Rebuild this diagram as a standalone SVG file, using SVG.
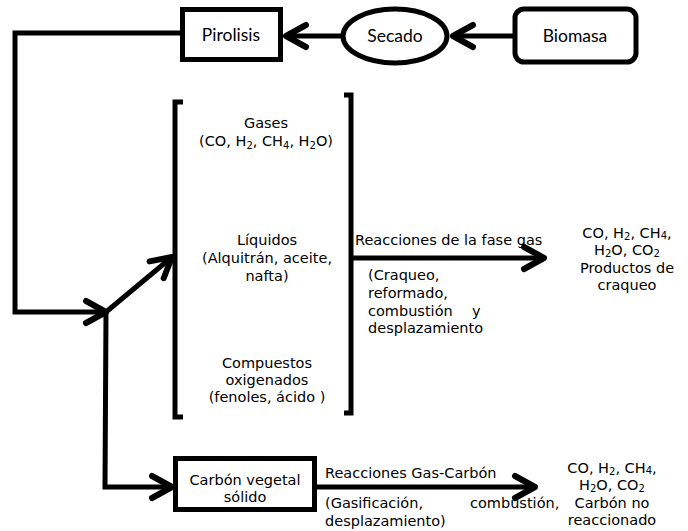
<svg xmlns="http://www.w3.org/2000/svg" width="688" height="531" viewBox="0 0 688 531">
<style>
.ln{fill:none;stroke:#000;stroke-width:5;stroke-linejoin:miter}
.box{fill:#fff;stroke:#000;stroke-width:5}
.t{font-family:"DejaVu Sans",Verdana,sans-serif;font-size:14.5px;fill:#000}
.tc{text-anchor:middle}
.tt{font-family:Lato,"Liberation Sans",sans-serif;font-size:17.5px;fill:#000;text-anchor:middle}
.s{font-size:10px}
</style>
<defs>
<marker id="ah" markerUnits="userSpaceOnUse" markerWidth="40" markerHeight="40" viewBox="-30 -20 40 40" refX="0" refY="0" orient="auto" overflow="visible">
<path d="M-20,-11 L0,0 L-20,11" fill="none" stroke="#000" stroke-width="6" stroke-linecap="round" stroke-linejoin="round"/>
</marker>
</defs>
<g id="connectors">
<line class="ln" x1="513" y1="36" x2="453" y2="36" marker-end="url(#ah)"/>
<line class="ln" x1="342" y1="36" x2="286" y2="36" marker-end="url(#ah)"/>
<polyline class="ln" points="182,33 15,33 15,312 106,312" marker-end="url(#ah)"/>
<line class="ln" x1="106" y1="312" x2="172" y2="257" marker-end="url(#ah)"/>
<polyline class="ln" points="106,312 105,487 172,487" marker-end="url(#ah)"/>
<line class="ln" x1="352" y1="258" x2="544" y2="258" marker-end="url(#ah)"/>
<line class="ln" x1="317" y1="487" x2="535" y2="487" marker-end="url(#ah)"/>
</g>
<g id="biomasa">
<rect class="box" x="515" y="9" width="121" height="53" rx="9"/>
<text class="tt" x="575" y="42">Biomasa</text>
</g>
<g id="secado">
<ellipse class="box" cx="395" cy="36" rx="52" ry="27"/>
<text class="tt" x="395" y="42">Secado</text>
</g>
<g id="pirolisis">
<rect class="box" x="182.5" y="9.5" width="98" height="50"/>
<text class="tt" x="231" y="41">Pirolisis</text>
</g>
<g id="productos-pirolisis">
<path class="ln" d="M183,102 L175,102 L175,417 L183,417"/>
<path class="ln" d="M344,95 L351,95 L351,413 L344,413"/>
<text class="t tc" x="266" y="128">Gases</text>
<text class="t tc" x="266" y="146">(CO, H<tspan class="s" dy="3">2</tspan><tspan dy="-3">, CH</tspan><tspan class="s" dy="3">4</tspan><tspan dy="-3">, H</tspan><tspan class="s" dy="3">2</tspan><tspan dy="-3">O)</tspan></text>
<text class="t tc" x="267" y="245">Líquidos</text>
<text class="t tc" x="267" y="263">(Alquitrán, aceite,</text>
<text class="t tc" x="267" y="281">nafta)</text>
<text class="t tc" x="267" y="368">Compuestos</text>
<text class="t tc" x="267" y="385">oxigenados</text>
<text class="t tc" x="267" y="402">(fenoles, ácido )</text>
</g>
<g id="fase-gas-labels">
<text class="t" x="355" y="245">Reacciones de la fase gas</text>
<text class="t" x="368" y="280">(Craqueo,</text>
<text class="t" x="368" y="298">reformado,</text>
<text class="t" x="368" y="316">combustión</text>
<text class="t" x="472" y="316">y</text>
<text class="t" x="368" y="333">desplazamiento</text>
</g>
<g id="productos-craqueo">
<text class="t tc" x="627" y="238">CO, H<tspan class="s" dy="2">2</tspan><tspan dy="-2">, CH</tspan><tspan class="s" dy="1">4</tspan><tspan dy="-1">,</tspan></text>
<text class="t tc" x="627" y="255">H<tspan class="s" dy="2">2</tspan><tspan dy="-2">O, CO</tspan><tspan class="s" dy="2">2</tspan></text>
<text class="t tc" x="627" y="273">Productos de</text>
<text class="t tc" x="627" y="290">craqueo</text>
</g>
<g id="carbon-vegetal">
<rect class="box" x="175.5" y="458.5" width="139" height="51"/>
<text class="t tc" x="245" y="485">Carbón vegetal</text>
<text class="t tc" x="245" y="502">sólido</text>
</g>
<g id="gas-carbon-labels">
<text class="t" x="325" y="478">Reacciones Gas-Carbón</text>
<text class="t" x="325" y="508">(Gasificación,</text>
<text class="t" x="470" y="508">combustión,</text>
<text class="t" x="325" y="526">desplazamiento)</text>
</g>
<g id="carbon-no-reaccionado">
<text class="t tc" x="612" y="473">CO, H<tspan class="s" dy="2">2</tspan><tspan dy="-2">, CH</tspan><tspan class="s" dy="1">4</tspan><tspan dy="-1">,</tspan></text>
<text class="t tc" x="612" y="490">H<tspan class="s" dy="2">2</tspan><tspan dy="-2">O, CO</tspan><tspan class="s" dy="2">2</tspan></text>
<text class="t tc" x="612" y="508">Carbón no</text>
<text class="t tc" x="612" y="525">reaccionado</text>
</g>
</svg>
